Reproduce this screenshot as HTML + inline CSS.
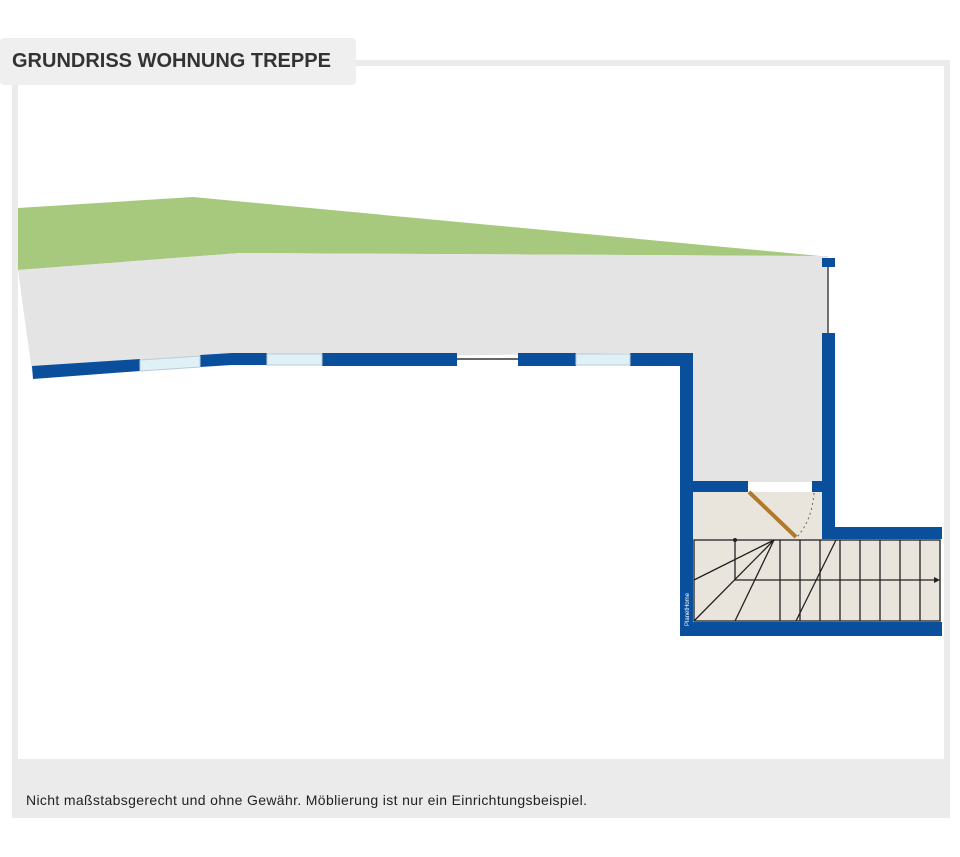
<!DOCTYPE html>
<html><head><meta charset="utf-8"><style>
body{margin:0;width:960px;height:857px;background:#fff;overflow:hidden;font-family:"Liberation Sans",sans-serif}
</style></head><body>
<svg width="960" height="857" viewBox="0 0 960 857" xmlns="http://www.w3.org/2000/svg" style="position:absolute;left:0;top:0">
<rect x="12" y="60" width="938" height="758" fill="#ebebeb"/>
<rect x="18" y="66" width="926" height="693" fill="#fff"/>
<rect x="0" y="38" width="356" height="47" rx="4" fill="#efefef"/>
<text x="12" y="67" font-size="20" font-weight="bold" fill="#333" font-family="Liberation Sans, sans-serif">GRUNDRISS WOHNUNG TREPPE</text>
<text x="26" y="805" font-size="14" letter-spacing="0.35" fill="#222" font-family="Liberation Sans, sans-serif">Nicht maßstabsgerecht und ohne Gewähr. Möblierung ist nur ein Einrichtungsbeispiel.</text>
<polygon points="18,208 193,197 820,256 240,253 18,270" fill="#a6c97e"/>
<polygon points="18,270 240,253 820,256 828,256 828,333 822,333 822,482 692,482 692,353 630,353 200,359 140,364 32,372" fill="#e4e4e4"/>
<rect x="693" y="492" width="129" height="48" fill="#e9e5dd"/>
<rect x="693" y="539" width="248" height="84" fill="#e9e5dd"/>
<g fill="#0a4f9c">
<polygon points="32,366 140,359 140,371 33,379"/>
<polygon points="200,355 232,353 267,353 267,365 232,365 200,367"/>
<rect x="322" y="353" width="135" height="13"/>
<rect x="518" y="353" width="58" height="13"/>
<rect x="630" y="353" width="63" height="13"/>
<rect x="680" y="353" width="13" height="283"/>
<rect x="822" y="333" width="13" height="205"/>
<rect x="822" y="527" width="120" height="12"/>
<rect x="680" y="622" width="262" height="14"/>
<rect x="693" y="481" width="55" height="11"/>
<rect x="812" y="481" width="10" height="11"/>
<rect x="822" y="258" width="13" height="9"/>
</g>
<g fill="#dff1f7" stroke="#b9ccd4" stroke-width="1">
<polygon points="140,360 200,356 200,367 140,371"/>
<rect x="267" y="354" width="55" height="11"/>
<rect x="576" y="354" width="54" height="11"/>
</g>
<line x1="457" y1="359" x2="518" y2="359" stroke="#333" stroke-width="1.5"/>
<line x1="828" y1="267" x2="828" y2="333" stroke="#444" stroke-width="1.5"/>
<line x1="749" y1="492" x2="796" y2="537" stroke="#b07a2a" stroke-width="4"/>
<path d="M814,493 Q812,520 797,537" fill="none" stroke="#666" stroke-width="1" stroke-dasharray="2,3"/>
<g stroke="#222" stroke-width="1.3" fill="none">
<rect x="694" y="540" width="246" height="81"/>
<line x1="735" y1="580" x2="938" y2="580"/>
<line x1="735" y1="540" x2="735" y2="580"/>
<line x1="774" y1="540" x2="694" y2="580"/>
<line x1="774" y1="540" x2="694" y2="621"/>
<line x1="774" y1="540" x2="735" y2="621"/>
<line x1="836" y1="540" x2="796" y2="621"/>
<line x1="780" y1="540" x2="780" y2="621"/>
<line x1="800" y1="540" x2="800" y2="621"/>
<line x1="820" y1="540" x2="820" y2="621"/>
<line x1="840" y1="540" x2="840" y2="621"/>
<line x1="860" y1="540" x2="860" y2="621"/>
<line x1="880" y1="540" x2="880" y2="621"/>
<line x1="900" y1="540" x2="900" y2="621"/>
<line x1="920" y1="540" x2="920" y2="621"/>
</g>
<circle cx="735" cy="540" r="2" fill="#222"/>
<polygon points="934,577 940,580 934,583" fill="#222"/>
<text x="689" y="626" font-size="6" fill="#fff" transform="rotate(-90 689 626)" font-family="Liberation Sans, sans-serif">PlanetHome</text>
</svg>
</body></html>
